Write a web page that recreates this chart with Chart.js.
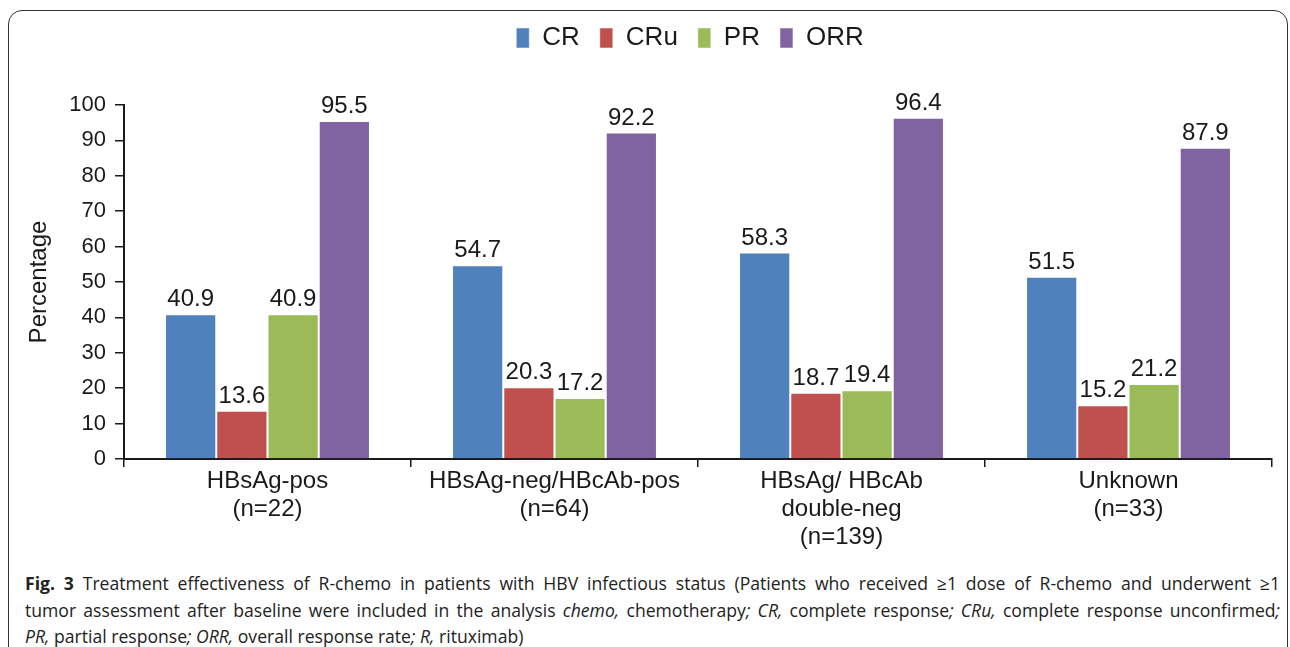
<!DOCTYPE html>
<html>
<head>
<meta charset="utf-8">
<script src="https://cdn.jsdelivr.net/npm/chart.js@4/dist/chart.umd.min.js"></script>
<style>
  html, body { margin: 0; padding: 0; background: #fff; width: 1290px; height: 647px; overflow: hidden; }
  #frame { position: absolute; left: 8px; top: 10px; width: 1280px; height: 700px; border: 1.5px solid #333; border-radius: 14px; box-sizing: border-box; }
  #wrap { position: absolute; left: 0; top: 0; width: 1290px; height: 555px; }
  #caption { position: absolute; left: 25px; top: 570px; width: 1255px; font-family: "Open Sans", sans-serif; font-size: 17.6px; line-height: 26.5px; color: #222; }
  #caption div { white-space: nowrap; }
  #caption .just { text-align: justify; text-align-last: justify; white-space: normal; }
  #caption b { font-weight: 700; }
</style>
</head>
<body>
<div id="frame"></div>
<div id="wrap"><canvas id="chart"></canvas></div>
<div id="caption">
<div class="just"><b>Fig. 3</b> Treatment effectiveness of R-chemo in patients with HBV infectious status (Patients who received ≥1 dose of R-chemo and underwent ≥1</div>
<div class="just">tumor assessment after baseline were included in the analysis <i>chemo,</i> chemotherapy<i>; CR,</i> complete response<i>; CRu,</i> complete response unconfirmed<i>;</i></div>
<div><i>PR,</i> partial response<i>; ORR,</i> overall response rate<i>; R,</i> rituximab)</div>
</div>
<script>
//Categories and series (percent)
const groups = [['HBsAg-pos', '(n=22)'], ['HBsAg-neg/HBcAb-pos', '(n=64)'], ['HBsAg/ HBcAb', 'double-neg', '(n=139)'], ['Unknown', '(n=33)']];
const seriesNames = ['CR', 'CRu', 'PR', 'ORR'];
const crValues = [40.9, 54.7, 58.3, 51.5];
const cruValues = [13.6, 20.3, 18.7, 15.2];
const prValues = [40.9, 17.2, 19.4, 21.2];
const orrValues = [95.5, 92.2, 96.4, 87.9];
const seriesColors = ['#4F81BD', '#C0504D', '#9BBB59', '#8064A2'];

const font = '"Liberation Sans", Arial, sans-serif';
const ink = '#1a1a1a';

//Value labels above bars
const valueLabels = {
    id: 'valueLabels',
    afterDatasetsDraw(chart) {
        const ctx = chart.ctx;
        ctx.save();
        ctx.font = '24px ' + font;
        ctx.fillStyle = ink;
        ctx.textAlign = 'center';
        ctx.textBaseline = 'alphabetic';
        chart.data.datasets.forEach((ds, i) => {
            chart.getDatasetMeta(i).data.forEach((bar, j) => {
                ctx.fillText(ds.data[j].toFixed(1), bar.x, bar.y - 8);
            });
        });
        ctx.restore();
    }
};

//Fixed legend block height, and legend nudged right like the reference
const legendSpace = {
    id: 'legendSpace',
    beforeInit(chart) {
        const legend = chart.legend;
        if (!legend) return;
        const fit = legend.fit.bind(legend);
        legend.fit = function () {
            fit();
            this.height = 100;
        };
    },
    afterLayout(chart) {
        const legend = chart.legend;
        if (!legend) return;
        legend.left += 54;
        legend.right += 54;
    }
};

const allValues = [crValues, cruValues, prValues, orrValues];

new Chart(document.getElementById('chart'), {
    type: 'bar',
    data: {
        labels: groups,
        datasets: seriesNames.map((name, i) => ({
            label: name,
            data: allValues[i],
            backgroundColor: seriesColors[i],
            borderColor: 'rgba(255,255,255,0.5)',
            borderWidth: 1,
            categoryPercentage: 0.714,
            barPercentage: 1.0,
        }))
    },
    options: {
        responsive: true,
        maintainAspectRatio: false,
        animation: false,
        layout: { padding: { top: 5, left: 0, right: 18, bottom: 0 } },
        plugins: {
            legend: {
                position: 'top',
                labels: {
                    boxWidth: 13,
                    boxHeight: 20,
                    padding: 20,
                    color: ink,
                    font: { family: font, size: 26 },
                }
            },
            tooltip: { enabled: false },
        },
        scales: {
            x: {
                grid: { offset: true, drawOnChartArea: false, drawTicks: true, tickLength: 8, color: ink, lineWidth: 1.5 },
                border: { color: ink, width: 2 },
                ticks: { color: ink, font: { family: font, size: 24, lineHeight: 1.17 }, padding: 0, maxRotation: 0, autoSkip: false },
                afterFit: s => { s.height = 96; },
            },
            y: {
                min: 0,
                max: 100,
                grid: { drawOnChartArea: false, drawTicks: true, tickLength: 9, color: ink, lineWidth: 1.5 },
                border: { color: ink, width: 2 },
                ticks: { stepSize: 10, color: ink, font: { family: font, size: 22 }, padding: 9 },
                title: { display: true, text: 'Percentage', color: ink, font: { family: font, size: 24 }, padding: { top: 25, bottom: 0 } },
                afterFit: s => { s.width = 124; },
            }
        }
    },
    plugins: [legendSpace, valueLabels],
});
</script>
</body>
</html>
